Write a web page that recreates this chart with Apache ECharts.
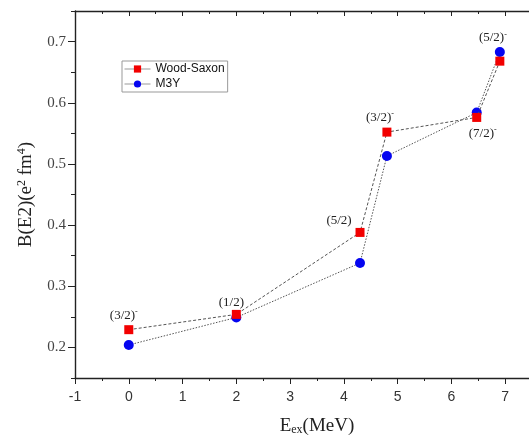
<!DOCTYPE html>
<html>
<head>
<meta charset="utf-8">
<script src="https://cdn.jsdelivr.net/npm/echarts@6/dist/echarts.min.js"></script>
<style>
  html, body { margin: 0; padding: 0; background: #fff; }
  #chart { width: 529px; height: 436px; }
</style>
</head>
<body>
<div id="chart"></div>
<script>
// excitation energies (MeV)
const energies = [0, 2, 4.3, 4.8, 6.47, 6.9];
// B(E2) values (e^2 fm^4)
const woodSaxon = [0.229, 0.254, 0.388, 0.552, 0.576, 0.668];
const m3y = [0.204, 0.249, 0.338, 0.513, 0.584, 0.683];
// spin-parity labels: five on Wood-Saxon points, the last one sits on the M3Y point
const wsStates = ['(3/2){m|-}', '(1/2)', '(5/2)', '(3/2){m|-}', '(7/2){m|-}', null];
const m3yStates = [null, null, null, null, null, '(5/2){m|-}'];

// where each state label goes relative to its marker
const wsOffsets = [[-5, -14], [-5, -12], [-21, -12], [-7, -15], [6, 16], null];
const m3yOffsets = [null, null, null, null, null, [-7, -14]];

const serif = '"Liberation Serif", "DejaVu Serif", serif';
const sans = '"Liberation Sans", Arial, sans-serif';

const labelRich = {
    m: { fontSize: 8, fontFamily: serif, color: '#222', padding: [0, 0, 7, 0] }
};

function buildData(values, states, offsets) {
    return values.map((v, i) => {
        const item = { value: [energies[i], v] };
        if (states[i]) {
            item.label = {
                show: true,
                position: 'inside',
                offset: offsets[i],
                formatter: states[i],
                fontFamily: serif,
                fontSize: 13,
                color: '#222',
                rich: labelRich
            };
        }
        return item;
    });
}

const chart = echarts.init(document.getElementById('chart'));

const option = {
    animation: false,
    backgroundColor: '#fff',
    grid: { left: 75, top: 11, right: -30, bottom: 58, outerBoundsMode: 'none', containLabel: false },
    legend: {
        orient: 'vertical',
        left: 122,
        top: 61,
        itemWidth: 26,
        itemHeight: 9,
        itemGap: 3,
        padding: [2, 3, 2, 2],
        borderColor: '#999',
        borderWidth: 1,
        borderRadius: 0,
        textStyle: { fontFamily: sans, fontSize: 12, color: '#111' },
        lineStyle: { type: 'solid', color: '#999', width: 1 },
        data: ['Wood-Saxon', 'M3Y']
    },
    xAxis: [
        {
            type: 'value',
            position: 'bottom',
            min: -1,
            max: 8,
            interval: 1,
            name: 'E{s|ex}(MeV)',
            nameLocation: 'middle',
            nameGap: 38,
            nameTextStyle: {
                fontFamily: serif,
                fontSize: 19,
                color: '#222',
                rich: {
                    s: { fontFamily: serif, fontSize: 12, color: '#222', padding: [8, 0, 0, 0] }
                }
            },
            axisLine: { onZero: false, lineStyle: { color: '#222', width: 1.4 } },
            axisTick: { length: 6, lineStyle: { color: '#222' } },
            minorTick: { show: true, splitNumber: 2, length: 3, lineStyle: { color: '#222' } },
            axisLabel: { fontFamily: sans, fontSize: 14, color: '#333', margin: 12 },
            splitLine: { show: false }
        },
        {
            type: 'value',
            position: 'top',
            min: -1,
            max: 8,
            interval: 1,
            axisLine: { onZero: false, lineStyle: { color: '#222', width: 1.4 } },
            axisTick: { inside: true, length: 5, lineStyle: { color: '#222' } },
            minorTick: { show: true, splitNumber: 2, length: 3, lineStyle: { color: '#222' } },
            axisLabel: { show: false },
            splitLine: { show: false }
        }
    ],
    yAxis: [
        {
            type: 'value',
            position: 'left',
            min: 0.15,
            max: 0.75,
            interval: 0.05,
            name: 'B(E2)(e{p|2} fm{p|4})',
            nameLocation: 'middle',
            nameGap: 38,
            nameTextStyle: {
                fontFamily: serif,
                fontSize: 19,
                color: '#222',
                rich: {
                    p: { fontFamily: serif, fontSize: 12, color: '#222', padding: [0, 0, 9, 0] }
                }
            },
            axisLine: { onZero: false, lineStyle: { color: '#222', width: 1.4 } },
            axisTick: { length: 4, lineStyle: { color: '#222' } },
            axisLabel: { show: false },
            splitLine: { show: false }
        },
        {
            type: 'value',
            position: 'left',
            min: 0.15,
            max: 0.75,
            splitNumber: 6,
            axisLine: { show: false, onZero: false },
            axisTick: { length: 7, lineStyle: { color: '#222' } },
            axisLabel: {
                fontFamily: serif,
                fontSize: 15,
                color: '#444',
                margin: 9,
                showMinLabel: false,
                showMaxLabel: false,
                formatter: v => v.toFixed(1)
            },
            splitLine: { show: false }
        }
    ],
    series: [
        {
            name: 'Wood-Saxon',
            type: 'line',
            xAxisIndex: 0,
            yAxisIndex: 0,
            symbol: 'rect',
            symbolSize: 9,
            itemStyle: { color: '#f20000' },
            lineStyle: { color: '#555', width: 1, type: [3, 2] },
            data: buildData(woodSaxon, wsStates, wsOffsets),
            z: 3
        },
        {
            name: 'M3Y',
            type: 'line',
            xAxisIndex: 0,
            yAxisIndex: 0,
            symbol: 'circle',
            symbolSize: 10,
            itemStyle: { color: '#0505f0' },
            lineStyle: { color: '#555', width: 1, type: [1.5, 1.5] },
            data: buildData(m3y, m3yStates, m3yOffsets),
            z: 2
        }
    ]
};

chart.setOption(option);
</script>
</body>
</html>
